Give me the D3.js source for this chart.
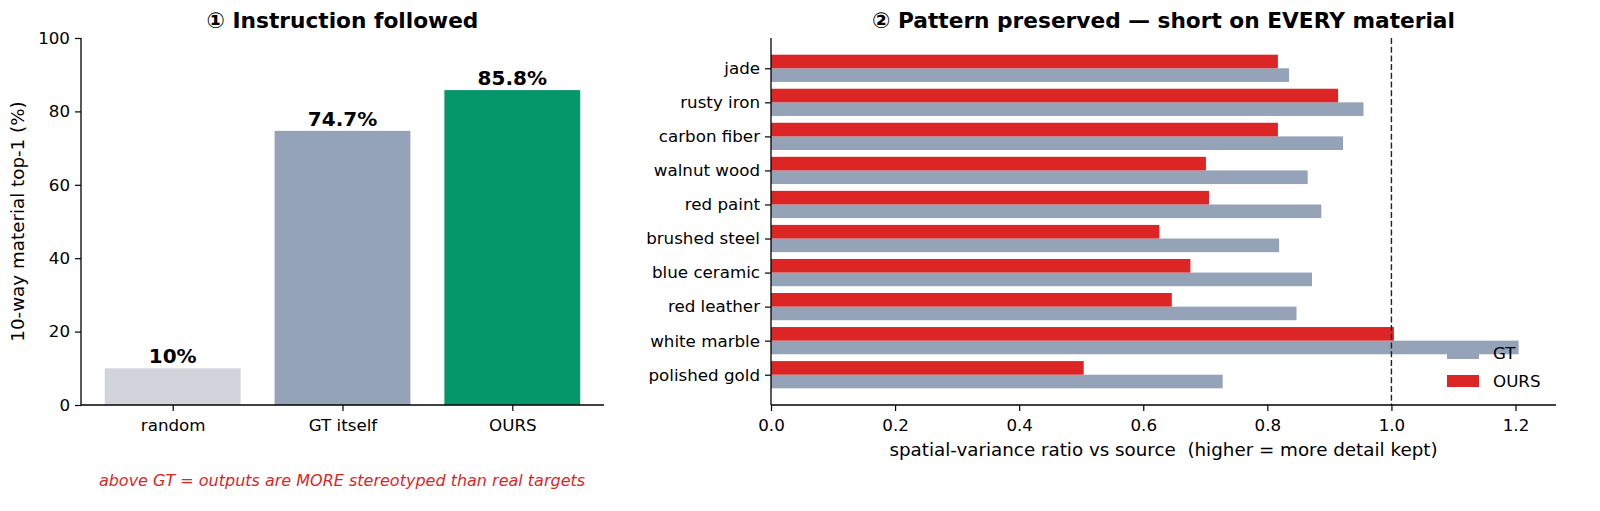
<!DOCTYPE html>
<html>
<head>
<meta charset="utf-8">
<script src="https://cdn.jsdelivr.net/npm/d3@7/dist/d3.min.js"></script>
<style>
  body { margin: 0; background: #fff; }
  svg { font-family: "DejaVu Sans", sans-serif; }
</style>
</head>
<body>
<div id="chart"></div>
<script>
// left panel data
var leftCats = ["random", "GT itself", "OURS"];
var leftVals = [10, 74.7, 85.8];
var leftLabels = ["10%", "74.7%", "85.8%"];
var leftColors = ["#d1d5db", "#94a3b8", "#059669"];
var leftTicks = [0, 20, 40, 60, 80, 100];

// right panel data (top to bottom)
var materials = ["jade", "rusty iron", "carbon fiber", "walnut wood", "red paint",
                 "brushed steel", "blue ceramic", "red leather", "white marble", "polished gold"];
var gtVals   = [0.835, 0.955, 0.922, 0.865, 0.887, 0.819, 0.872, 0.847, 1.205, 0.728];
var oursVals = [0.817, 0.914, 0.817, 0.701, 0.706, 0.626, 0.676, 0.646, 1.004, 0.504];
var rightTicks = [0, 0.2, 0.4, 0.6, 0.8, 1.0, 1.2];

var W = 1600, H = 511;
var tickFont = "16.7px", labelFont = "18.3px", titleFont = "21.7px";
var svg = d3.select("#chart").append("svg")
    .attr("width", W).attr("height", H);

// ---------- left panel ----------
var L = {x0: 81, x1: 604, y0: 38, y1: 405};
var lx = d3.scaleLinear().domain([-0.54, 2.54]).range([L.x0, L.x1]);
var ly = d3.scaleLinear().domain([0, 100]).range([L.y1, L.y0]);
var bw = lx(0.8) - lx(0);

var gl = svg.append("g");
gl.selectAll("rect.bar")
    .data(leftVals)
    .enter().append("rect")
    .attr("x", function(d, i) { return lx(i) - bw / 2; })
    .attr("y", function(d) { return ly(d); })
    .attr("width", bw)
    .attr("height", function(d) { return ly(0) - ly(d); })
    .attr("fill", function(d, i) { return leftColors[i]; });

gl.selectAll("text.val")
    .data(leftVals)
    .enter().append("text")
    .attr("x", function(d, i) { return lx(i); })
    .attr("y", function(d) { return ly(d) - 5; })
    .attr("text-anchor", "middle")
    .attr("font-weight", "bold")
    .attr("font-size", "20px")
    .text(function(d, i) { return leftLabels[i]; });

var lyAxis = gl.append("g")
    .attr("transform", "translate(" + L.x0 + ",0)")
    .call(d3.axisLeft(ly).tickValues(leftTicks).tickSize(6).tickPadding(5));
var lxAxis = gl.append("g")
    .attr("transform", "translate(0," + L.y1 + ")")
    .call(d3.axisBottom(lx).tickValues([0, 1, 2]).tickFormat(function(d) { return leftCats[d]; })
          .tickSize(6).tickPadding(8));
lxAxis.select(".domain").attr("d", "M" + L.x0 + ",0H" + L.x1);
lyAxis.select(".domain").attr("d", "M0," + L.y1 + "V" + L.y0);

gl.append("text")
    .attr("transform", "translate(24," + ((L.y0 + L.y1) / 2) + ") rotate(-90)")
    .attr("text-anchor", "middle")
    .attr("font-size", labelFont)
    .text("10-way material top-1 (%)");

gl.append("text")
    .attr("x", (L.x0 + L.x1) / 2).attr("y", 28)
    .attr("text-anchor", "middle")
    .attr("font-weight", "bold")
    .attr("font-size", titleFont)
    .text("\u2460 Instruction followed");

gl.append("text")
    .attr("x", 342).attr("y", 486)
    .attr("text-anchor", "middle")
    .attr("font-style", "italic")
    .attr("font-size", "16px")
    .attr("fill", "#dc2626")
    .text("above GT = outputs are MORE stereotyped than real targets");

// ---------- right panel ----------
var R = {x0: 771, x1: 1556, y0: 38, y1: 405};
var n = materials.length;
var rx = d3.scaleLinear().domain([0, d3.max(gtVals) * 1.05]).range([R.x0, R.x1]);
var ry = d3.scaleLinear().domain([-0.89, n - 1 + 0.89]).range([R.y1, R.y0]);
var bh = ry(0) - ry(0.4);
var pos = function(i) { return n - 1 - i; };

var gr = svg.append("g");
gr.selectAll("rect.gt")
    .data(gtVals)
    .enter().append("rect")
    .attr("x", rx(0))
    .attr("y", function(d, i) { return ry(pos(i)); })
    .attr("width", function(d) { return rx(d) - rx(0); })
    .attr("height", bh)
    .attr("fill", "#94a3b8");
gr.selectAll("rect.ours")
    .data(oursVals)
    .enter().append("rect")
    .attr("x", rx(0))
    .attr("y", function(d, i) { return ry(pos(i) + 0.4); })
    .attr("width", function(d) { return rx(d) - rx(0); })
    .attr("height", bh)
    .attr("fill", "#dc2626");

gr.append("line")
    .attr("x1", rx(1)).attr("x2", rx(1))
    .attr("y1", R.y0).attr("y2", R.y1)
    .attr("stroke", "#222")
    .attr("stroke-width", 1.4)
    .attr("stroke-dasharray", "6,2.7");

var ryAxis = gr.append("g")
    .attr("transform", "translate(" + R.x0 + ",0)")
    .call(d3.axisLeft(ry).tickValues(d3.range(n)).tickFormat(function(d) { return materials[n - 1 - d]; })
          .tickSize(6).tickPadding(5));
ryAxis.select(".domain").attr("d", "M0," + R.y1 + "V" + R.y0);
var rxAxis = gr.append("g")
    .attr("transform", "translate(0," + R.y1 + ")")
    .call(d3.axisBottom(rx).tickValues(rightTicks).tickFormat(d3.format(".1f"))
          .tickSize(6).tickPadding(8));
rxAxis.select(".domain").attr("d", "M" + R.x0 + ",0H" + R.x1);

gr.append("text")
    .attr("x", (R.x0 + R.x1) / 2).attr("y", 456)
    .attr("text-anchor", "middle")
    .attr("font-size", labelFont)
    .attr("xml:space", "preserve")
    .style("white-space", "pre")
    .text("spatial-variance ratio vs source  (higher = more detail kept)");

gr.append("text")
    .attr("x", (R.x0 + R.x1) / 2).attr("y", 28)
    .attr("text-anchor", "middle")
    .attr("font-weight", "bold")
    .attr("font-size", titleFont)
    .text("\u2461 Pattern preserved \u2014 short on EVERY material");

// legend
var legend = [{name: "GT", color: "#94a3b8"}, {name: "OURS", color: "#dc2626"}];
var lg = gr.append("g").attr("transform", "translate(1447,347)");
lg.selectAll("rect")
    .data(legend)
    .enter().append("rect")
    .attr("x", 0).attr("y", function(d, i) { return i * 28; })
    .attr("width", 32).attr("height", 12)
    .attr("fill", function(d) { return d.color; });
lg.selectAll("text")
    .data(legend)
    .enter().append("text")
    .attr("x", 46).attr("y", function(d, i) { return i * 28 + 12; })
    .attr("font-size", tickFont)
    .text(function(d) { return d.name; });

// axis styling
svg.selectAll(".tick text").attr("font-size", tickFont).attr("fill", "#000")
    .attr("font-family", "DejaVu Sans, sans-serif");
svg.selectAll(".tick line").attr("stroke", "#000").attr("stroke-width", 1.2);
svg.selectAll(".domain").attr("stroke", "#000").attr("stroke-width", 1.3);
</script>
</body>
</html>
